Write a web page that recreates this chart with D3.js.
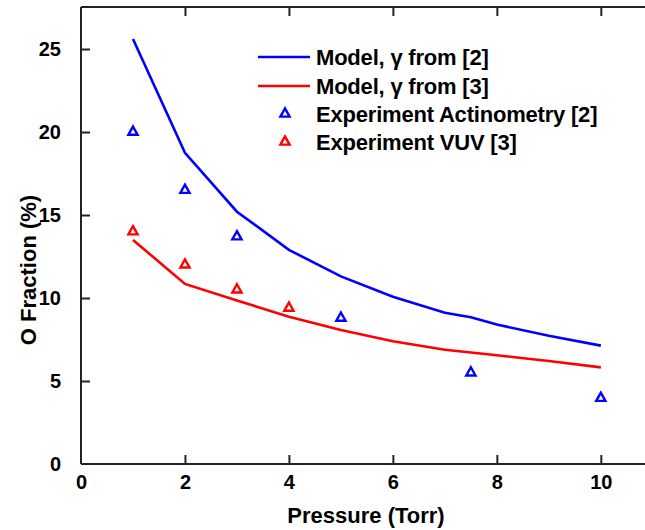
<!DOCTYPE html>
<html>
<head>
<meta charset="utf-8">
<script src="https://cdn.jsdelivr.net/npm/d3@7"></script>
<style>
  html, body { margin: 0; padding: 0; background: #fff; }
  svg { display: block; }
  text { font-family: "Liberation Sans", Arial, sans-serif; font-weight: bold; fill: #000; }
</style>
</head>
<body>
<svg id="chart" width="645" height="530"></svg>
<script>
// ---- data ----
const modelX = [1, 2, 3, 4, 5, 6, 7, 7.5, 8, 9, 10];
const modelGamma2 = [25.6, 18.75, 15.2, 12.9, 11.3, 10.08, 9.11, 8.84, 8.4, 7.72, 7.13];
const modelGamma3X = [1, 2, 3, 4, 5, 6, 7, 8, 9, 10];
const modelGamma3 = [13.5, 10.85, 9.85, 8.87, 8.07, 7.4, 6.88, 6.55, 6.2, 5.82];
const expActX = [1, 2, 3, 5, 7.5, 10];
const expAct = [20.05, 16.55, 13.75, 8.85, 5.55, 4.02];
const expVuvX = [1, 2, 3, 4];
const expVuv = [14.05, 12.05, 10.55, 9.45];
const xTicks = [0, 2, 4, 6, 8, 10];
const yTicks = [0, 5, 10, 15, 20, 25];
const legendLabels = ["Model, \u03b3 from [2]", "Model, \u03b3 from [3]", "Experiment Actinometry [2]", "Experiment VUV [3]"];
const colBlue = "#0000ff", colRed = "#ff0000";

(function () {
// ---- layout ----
const svg = d3.select("#chart");
const pL = 81, pR = 645, pT = 7, pB = 464;
const x = d3.scaleLinear().domain([0, 10.85]).range([pL, pR]);
const y = d3.scaleLinear().domain([0, 27.53]).range([pB, pT]);

// axes
const axisColor = "#222";
const gx = svg.append("g").attr("transform", `translate(0,${pB})`)
  .call(d3.axisBottom(x).tickValues(xTicks).tickSize(-9).tickPadding(11).tickFormat(d3.format("d")));
const gxTop = svg.append("g").attr("transform", `translate(0,${pT})`)
  .call(d3.axisTop(x).tickValues(xTicks.filter(d => d > 0)).tickSize(-9).tickFormat(""));
const gy = svg.append("g").attr("transform", `translate(${pL},0)`)
  .call(d3.axisLeft(y).tickValues(yTicks).tickSize(-9).tickPadding(20).tickFormat(d3.format("d")));

[gx, gxTop, gy].forEach(g => {
  g.select(".domain").attr("stroke", axisColor).attr("stroke-width", 2);
  g.selectAll(".tick line").attr("stroke", axisColor).attr("stroke-width", 2);
  g.selectAll(".tick text").style("font-size", "20px").attr("fill", "#000");
});
gxTop.select(".domain").attr("d", `M${pL},0H${pR}`);
gx.select(".domain").attr("d", `M${pL},0H${pR}`);
gy.select(".domain").attr("d", `M0,${pB}V${pT}`);
gy.selectAll(".tick").filter(d => d === 0).select("line").remove();
gx.selectAll(".tick").filter(d => d === 0).select("line").remove();

// axis titles
svg.append("text").attr("x", 366).attr("y", 523)
  .attr("text-anchor", "middle").style("font-size", "22px").text("Pressure (Torr)");
svg.append("text").attr("transform", `translate(36,270) rotate(-90)`)
  .attr("text-anchor", "middle").style("font-size", "22px").text("O Fraction (%)");

// lines
const line = d3.line().x(d => x(d[0])).y(d => y(d[1]));
svg.append("path").datum(d3.zip(modelX, modelGamma2)).attr("d", line)
  .attr("fill", "none").attr("stroke", colBlue).attr("stroke-width", 2.6);
svg.append("path").datum(d3.zip(modelGamma3X, modelGamma3)).attr("d", line)
  .attr("fill", "none").attr("stroke", colRed).attr("stroke-width", 2.6);

// triangles
const tri = (cx, cy) => `M${cx},${cy - 4.6}L${cx + 4.6},${cy + 3.6}L${cx - 4.6},${cy + 3.6}Z`;
function markers(xs, ys, col) {
  svg.append("g").selectAll("path").data(d3.zip(xs, ys)).join("path")
    .attr("d", d => tri(x(d[0]), y(d[1])))
    .attr("fill", "none").attr("stroke", col).attr("stroke-width", 2.4);
}
markers(expActX, expAct, colBlue);
markers(expVuvX, expVuv, colRed);

// legend
const lg = svg.append("g");
const rowsY = [57, 86, 114, 142];
const textX = 316;
lg.append("line").attr("x1", 258).attr("x2", 310).attr("y1", rowsY[0]).attr("y2", rowsY[0])
  .attr("stroke", colBlue).attr("stroke-width", 2.6);
lg.append("line").attr("x1", 258).attr("x2", 310).attr("y1", rowsY[1]).attr("y2", rowsY[1])
  .attr("stroke", colRed).attr("stroke-width", 2.6);
lg.append("path").attr("d", tri(285, rowsY[2] - 1)).attr("fill", "none").attr("stroke", colBlue).attr("stroke-width", 2.4);
lg.append("path").attr("d", tri(285, rowsY[3] - 1)).attr("fill", "none").attr("stroke", colRed).attr("stroke-width", 2.4);
lg.selectAll("text.lab").data(legendLabels).join("text").attr("class", "lab")
  .attr("x", textX).attr("y", (d, i) => rowsY[i]).attr("dy", "0.36em")
  .style("font-size", "22px").style("letter-spacing", "-0.2px").text(d => d);
})();
</script>
</body>
</html>
